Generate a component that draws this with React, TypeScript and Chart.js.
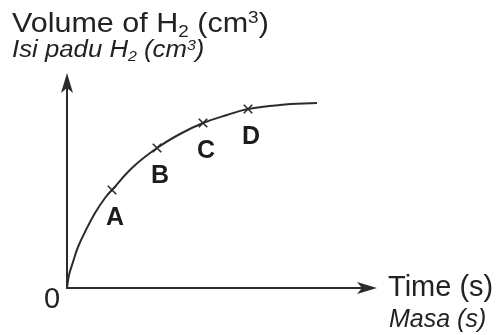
import React, { useEffect, useRef } from "react";
import { Chart, registerables } from "chart.js";

Chart.register(...registerables);

// Curve: time (arbitrary units) vs volume of H2 (arbitrary units)
const curveTime = [0, 2, 6, 11, 19, 28, 38, 45, 66, 90, 113, 136, 160, 181, 213, 250];
const curveVolume = [0, 13, 26, 41, 58, 75, 90, 98, 121, 140, 154, 165, 173, 179, 183, 185];

// Marked points on the curve
const markLabels = ["A", "B", "C", "D"];
const markTime = [45, 90, 136, 181];
const markVolume = [98, 140, 165, 179];

const axisMaxTime = 310;
const axisMaxVolume = 215;

const INK = "#2b2b2b";
const FONT = '"Liberation Sans", Arial, Helvetica, sans-serif';

const axesPlugin = {
  id: "arrowAxes",
  afterDraw(chart: any) {
    const ctx = chart.ctx;
    const xs = chart.scales.x;
    const ys = chart.scales.y;
    const ox = xs.getPixelForValue(0);
    const oy = ys.getPixelForValue(0);
    const tx = xs.getPixelForValue(axisMaxTime);
    const ty = ys.getPixelForValue(axisMaxVolume);
    ctx.save();
    ctx.strokeStyle = INK;
    ctx.fillStyle = INK;
    ctx.lineWidth = 2;
    ctx.lineCap = "butt";
    ctx.beginPath();
    ctx.moveTo(ox, oy + 1);
    ctx.lineTo(ox, ty + 12);
    ctx.stroke();
    ctx.beginPath();
    ctx.moveTo(ox - 1, oy);
    ctx.lineTo(tx - 12, oy);
    ctx.stroke();
    ctx.beginPath();
    ctx.moveTo(ox, ty);
    ctx.lineTo(ox - 6, ty + 20);
    ctx.lineTo(ox, ty + 15);
    ctx.lineTo(ox + 6, ty + 20);
    ctx.closePath();
    ctx.fill();
    ctx.beginPath();
    ctx.moveTo(tx, oy);
    ctx.lineTo(tx - 20, oy - 6);
    ctx.lineTo(tx - 15, oy);
    ctx.lineTo(tx - 20, oy + 6);
    ctx.closePath();
    ctx.fill();
    ctx.font = "bold 25px " + FONT;
    ctx.textAlign = "center";
    ctx.textBaseline = "alphabetic";
    ctx.fillStyle = "#1c1c1c";
    markLabels.forEach((lab, i) => {
      const px = xs.getPixelForValue(markTime[i]);
      const py = ys.getPixelForValue(markVolume[i]);
      ctx.fillText(lab, px + 3, py + 35);
    });
    ctx.restore();
  },
};

export default function App() {
  const ref = useRef<HTMLCanvasElement | null>(null);

  useEffect(() => {
    if (!ref.current) return;
    const chart = new Chart(ref.current, {
      type: "scatter",
      data: {
        datasets: [
          {
            data: curveTime.map((t, i) => ({ x: t, y: curveVolume[i] })),
            showLine: true,
            borderColor: INK,
            borderWidth: 2,
            pointRadius: 0,
            tension: 0.4,
            fill: false,
          },
          {
            data: markTime.map((t, i) => ({ x: t, y: markVolume[i] })),
            showLine: false,
            pointStyle: "crossRot",
            pointRadius: 6,
            borderColor: INK,
            borderWidth: 1.6,
          },
        ],
      },
      options: {
        responsive: false,
        animation: false,
        layout: { padding: { left: 67, right: 122, top: 73, bottom: 47 } },
        plugins: { legend: { display: false }, tooltip: { enabled: false }, title: { display: false } },
        scales: {
          x: { type: "linear", display: false, min: 0, max: axisMaxTime },
          y: { type: "linear", display: false, min: 0, max: axisMaxVolume },
        },
      },
      plugins: [axesPlugin],
    } as any);
    return () => chart.destroy();
  }, []);

  const base: React.CSSProperties = {
    position: "absolute",
    fontFamily: FONT,
    color: "#222",
    lineHeight: 1,
    whiteSpace: "nowrap",
    margin: 0,
    transformOrigin: "left top",
  };
  const sub: React.CSSProperties = { fontSize: "0.62em", verticalAlign: "-0.28em" };
  const sup: React.CSSProperties = { fontSize: "0.62em", verticalAlign: "0.5em" };

  return (
    <div style={{ position: "absolute", left: 0, top: 0, width: 499, height: 335, background: "#fff", overflow: "hidden" }}>
      <canvas ref={ref} width={499} height={335} style={{ position: "absolute", left: 0, top: 0 }} />
      <div style={{ ...base, left: 12, top: 9, fontSize: 28, transform: "scaleX(1.09)" }}>
        Volume of H<span style={sub}>2</span> (cm<span style={sup}>3</span>)
      </div>
      <div style={{ ...base, left: 12, top: 38, fontSize: 23, fontStyle: "italic", transform: "scaleX(1.12)" }}>
        Isi padu H<span style={sub}>2</span> (cm<span style={sup}>3</span>)
      </div>
      <div style={{ ...base, left: 44, top: 284, fontSize: 29 }}>0</div>
      <div style={{ ...base, left: 388, top: 272, fontSize: 29 }}>Time (s)</div>
      <div style={{ ...base, left: 389, top: 306, fontSize: 25, fontStyle: "italic" }}>Masa (s)</div>
    </div>
  );
}
